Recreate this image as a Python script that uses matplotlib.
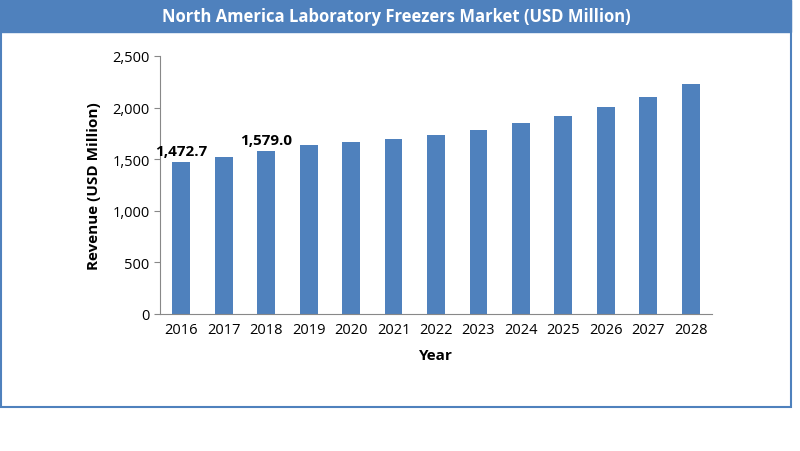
import matplotlib
matplotlib.use("Agg")
import matplotlib.pyplot as plt
from matplotlib.patches import Rectangle
from matplotlib.ticker import FuncFormatter

years = ["2016","2017","2018","2019","2020","2021","2022","2023","2024","2025","2026","2027","2028"]
revenue = [1472.7, 1521, 1579.0, 1638, 1667, 1696, 1734, 1783, 1851, 1919, 2006, 2103, 2229]
labels = {0: "1,472.7", 2: "1,579.0"}

plt.rcParams['font.family'] = ['Open Sans', 'DejaVu Sans']
W, H = 800, 452
fig = plt.figure(figsize=(8, 4.52), dpi=100)
blue = "#4F81BD"
fig.patches.append(Rectangle((1/W, 1-408/H), 790/W, 406/H, transform=fig.transFigure,
                             fill=False, edgecolor=blue, lw=1.5))
fig.patches.append(Rectangle((1/W, 1-33/H), 790/W, 32/H, transform=fig.transFigure,
                             facecolor=blue, edgecolor=blue))
fig.text(396/W, 1-17/H, "North America Laboratory Freezers Market (USD Million)",
         ha="center", va="center", color="white", fontsize=12, fontweight="bold")

ax = fig.add_axes([160/W, 1-315/H, 552/W, 258/H])
x = range(len(years))
ax.bar(x, revenue, width=0.42, color=blue)
for i, t in labels.items():
    ax.text(i, revenue[i] + 40, t, ha="center", va="bottom", fontsize=11, fontweight="bold")
ax.set_xticks(list(x))
ax.set_xticklabels(years, fontsize=10.5)
ax.set_xlim(-0.5, len(years) - 0.5)
ax.set_ylim(0, 2500)
ax.set_yticks(range(0, 2501, 500))
ax.yaxis.set_major_formatter(FuncFormatter(lambda v, p: f"{int(v):,}"))
ax.tick_params(axis="y", labelsize=10.5, length=4, color="#888888")
ax.tick_params(axis="x", length=0, pad=6)
for s in ["top", "right"]:
    ax.spines[s].set_visible(False)
for s in ["left", "bottom"]:
    ax.spines[s].set_color("#888888")
ax.set_xlabel("Year", fontsize=11, fontweight="bold", labelpad=8)
ax.set_ylabel("Revenue (USD Million)", fontsize=11, fontweight="bold", labelpad=8)
fig.savefig("out.png", dpi=100)
